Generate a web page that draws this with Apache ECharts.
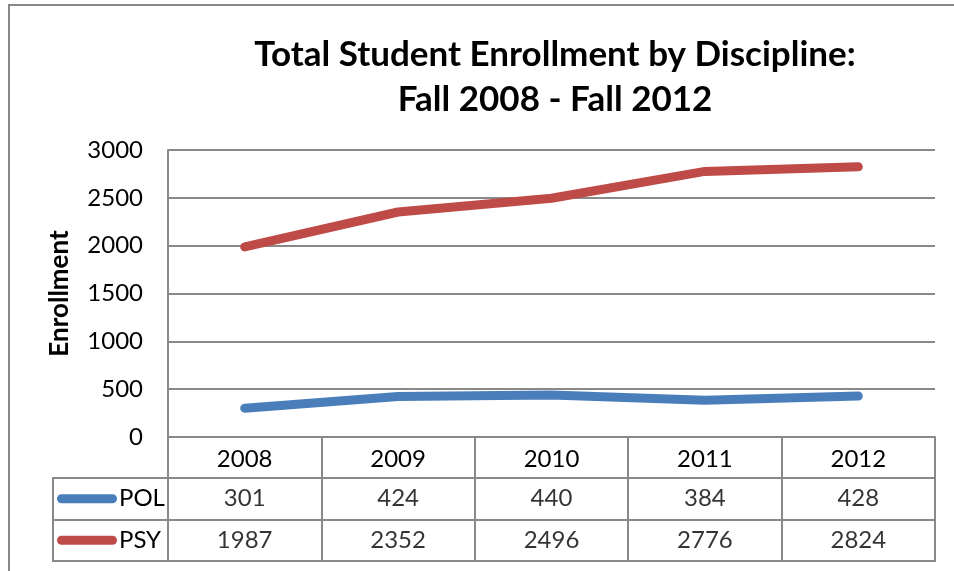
<!DOCTYPE html>
<html>
<head>
<meta charset="utf-8">
<script src="https://cdn.jsdelivr.net/npm/echarts@6/dist/echarts.min.js"></script>
<style>
html,body{margin:0;padding:0;background:#fff;overflow:hidden;}
#frame{position:absolute;left:8px;top:4px;width:2000px;height:2000px;border-left:2px solid #878787;border-top:2px solid #878787;}
#chart{position:absolute;left:0;top:0;width:954px;height:571px;}
</style>
</head>
<body>
<div id="frame"></div>
<div id="chart"></div>
<script>
const titleText = 'Total Student Enrollment by Discipline:\nFall 2008 - Fall 2012';
const yAxisName = 'Enrollment';
const years = ['2008', '2009', '2010', '2011', '2012'];
const seriesNames = ['POL', 'PSY'];
const polValues = [301, 424, 440, 384, 428];
const psyValues = [1987, 2352, 2496, 2776, 2824];
const yMin = 0, yMax = 3000, yStep = 500;

const colors = { POL: '#4a7ebb', PSY: '#be4b48' };
const gray = '#898989';
const font = 'Lato, "Open Sans", sans-serif';
const valuesByName = { POL: polValues, PSY: psyValues };

const tableData = [];
seriesNames.forEach(name => {
  valuesByName[name].forEach((v, i) => tableData.push([years[i], name, v]));
});

const chart = echarts.init(document.getElementById('chart'), null, { renderer: 'canvas' });
chart.setOption({
  backgroundColor: 'transparent',
  animation: false,
  title: {
    text: titleText,
    left: 555,
    top: 32,
    padding: 0,
    textAlign: 'center',
    textStyle: { fontFamily: font, fontWeight: 'bold', fontSize: 35, lineHeight: 45, color: '#000' }
  },
  grid: [
    { left: 168, right: 19, top: 150, bottom: 134 },
    { left: 168, right: 19, top: 478, bottom: 10, show: true, borderColor: gray, borderWidth: 2, backgroundColor: 'transparent' },
    { left: 53, width: 115, top: 478, bottom: 10, show: true, borderColor: gray, borderWidth: 2, backgroundColor: 'transparent' }
  ],
  xAxis: [
    {
      gridIndex: 0, type: 'category', data: years, boundaryGap: true,
      axisLine: { show: true, lineStyle: { color: gray, width: 2 } },
      axisTick: { show: true, interval: 0, length: 41, lineStyle: { color: gray, width: 2 } },
      axisLabel: { fontFamily: font, fontSize: 24, color: '#000', margin: 10, interval: 0 }
    },
    {
      gridIndex: 1, type: 'category', data: years, boundaryGap: true,
      axisLine: { show: false }, axisTick: { show: false }, axisLabel: { show: false },
      splitLine: { show: true, interval: 0, lineStyle: { color: gray, width: 2 } }
    },
    { gridIndex: 2, type: 'value', show: false }
  ],
  yAxis: [
    {
      gridIndex: 0, type: 'value', min: yMin, max: yMax, interval: yStep,
      name: yAxisName, nameLocation: 'middle', nameRotate: 90, nameGap: 95,
      nameTextStyle: { fontFamily: font, fontWeight: 'bold', fontSize: 26, color: '#000' },
      axisLine: { show: true, lineStyle: { color: gray, width: 2 } },
      axisTick: { show: false },
      axisLabel: { fontFamily: font, fontSize: 24, color: '#000', margin: 25, formatter: v => String(v) },
      splitLine: { show: true, lineStyle: { color: gray, width: 2 } }
    },
    {
      gridIndex: 1, type: 'category', data: seriesNames, inverse: true,
      axisLine: { show: false }, axisTick: { show: false }, axisLabel: { show: false },
      splitLine: { show: true, interval: 0, lineStyle: { color: gray, width: 2 } }
    },
    {
      gridIndex: 2, type: 'category', data: seriesNames, inverse: true,
      axisLine: { show: false }, axisTick: { show: false },
      splitLine: { show: true, interval: 0, lineStyle: { color: gray, width: 2 } },
      axisLabel: {
        inside: true, margin: 4, interval: 0,
        formatter: v => '{sw' + v + '|}{t|' + v + '}',
        rich: {
          swPOL: { width: 60, height: 9, backgroundColor: colors.POL, borderRadius: 4.5 },
          swPSY: { width: 60, height: 9, backgroundColor: colors.PSY, borderRadius: 4.5 },
          t: { fontFamily: font, fontSize: 24, color: '#000', padding: [0, 0, 0, 2] }
        }
      }
    }
  ],
  series: [
    {
      name: 'POL', type: 'line', xAxisIndex: 0, yAxisIndex: 0, data: polValues,
      symbol: 'none', lineStyle: { color: colors.POL, width: 9, cap: 'round', join: 'round' }
    },
    {
      name: 'PSY', type: 'line', xAxisIndex: 0, yAxisIndex: 0, data: psyValues,
      symbol: 'none', lineStyle: { color: colors.PSY, width: 9, cap: 'round', join: 'round' }
    },
    {
      name: 'table', type: 'scatter', xAxisIndex: 1, yAxisIndex: 1, data: tableData,
      symbolSize: 1, itemStyle: { color: 'transparent' }, silent: true,
      label: { show: true, position: 'inside', formatter: p => String(p.value[2]),
        fontFamily: font, fontSize: 24, color: '#000' }
    }
  ]
});
</script>
</body>
</html>
